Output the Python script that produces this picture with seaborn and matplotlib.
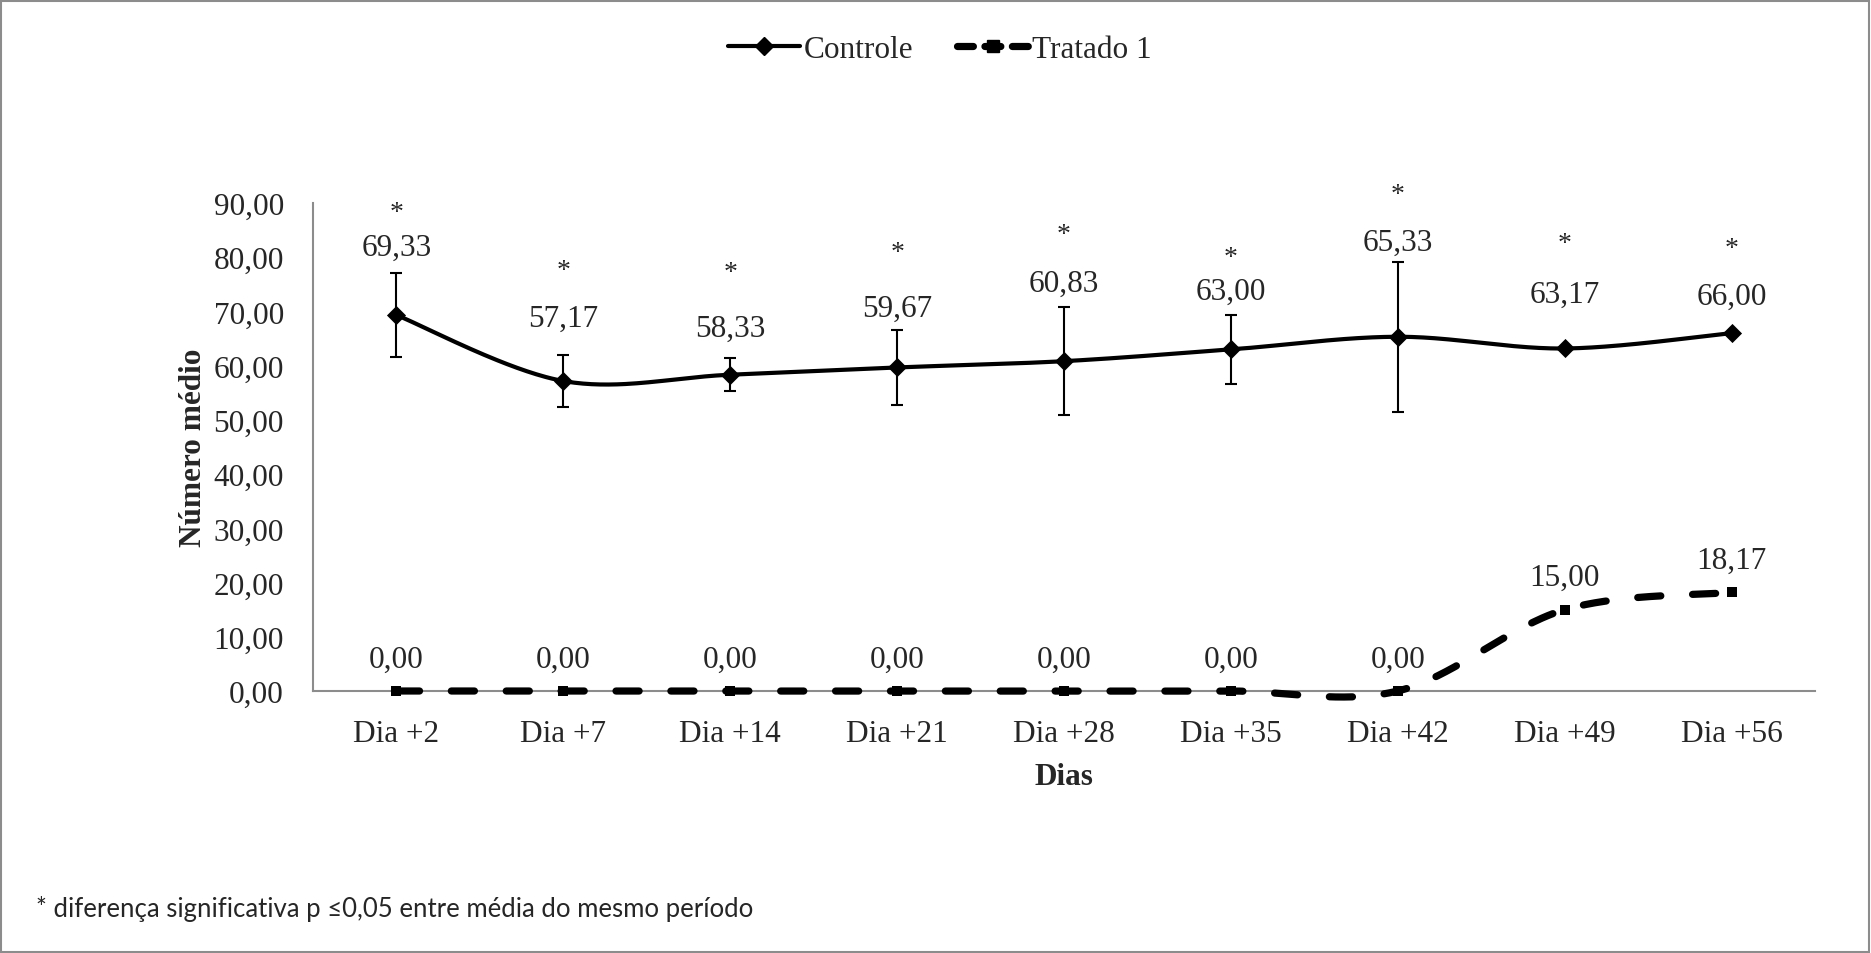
import numpy as np
import pandas as pd
import matplotlib
matplotlib.use("Agg")
import matplotlib.pyplot as plt
from matplotlib.lines import Line2D
from matplotlib.patches import Rectangle
from matplotlib.ticker import FuncFormatter, FixedLocator
import seaborn as sns

# ---- data -------------------------------------------------------------
dias = ["Dia +2", "Dia +7", "Dia +14", "Dia +21", "Dia +28",
        "Dia +35", "Dia +42", "Dia +49", "Dia +56"]
controle = [69.33, 57.17, 58.33, 59.67, 60.83, 63.00, 65.33, 63.17, 66.00]
controle_dp = [7.75, 4.85, 3.05, 6.90, 9.95, 6.30, 13.80, 0.0, 0.0]
tratado = [0.00, 0.00, 0.00, 0.00, 0.00, 0.00, 0.00, 15.00, 18.17]
significativo = [True] * 9

# placement of the value labels / asterisks of the control series (data units)
controle_label_y = [81.9, 68.8, 66.9, 70.6, 75.2, 73.7, 82.8, 73.2, 72.7]
asterisco_y = [88.2, 77.6, 77.1, 80.8, 84.1, 80.0, 91.5, 82.6, 81.7]

y_ticks = [0, 10, 20, 30, 40, 50, 60, 70, 80, 90]

SERIF = ["Liberation Serif", "DejaVu Serif"]


def fmt_br(v, _pos=None):
    return f"{v:.2f}".replace(".", ",")


def smooth_curve(x, y, n=60):
    """Piecewise cubic Bezier through the points (spreadsheet-style smoothing)."""
    pts = np.column_stack([x, y]).astype(float)
    out = []
    for i in range(len(pts) - 1):
        p0, p3 = pts[i], pts[i + 1]
        prev = pts[i - 1] if i > 0 else pts[i]
        nxt = pts[i + 2] if i + 2 < len(pts) else pts[i + 1]
        c1 = p0 + (p3 - prev) / 6.0
        c2 = p3 - (nxt - p0) / 6.0
        t = np.linspace(0, 1, n)[:, None]
        seg = ((1 - t) ** 3) * p0 + 3 * ((1 - t) ** 2) * t * c1 \
            + 3 * (1 - t) * (t ** 2) * c2 + (t ** 3) * p3
        out.append(seg if i == 0 else seg[1:])
    s = np.vstack(out)
    return pd.DataFrame({"x": s[:, 0], "y": s[:, 1]})


# ---- figure -----------------------------------------------------------
sns.set_style("white")
plt.rcParams["font.family"] = SERIF
plt.rcParams["font.size"] = 22

W, H = 1871, 954
fig = plt.figure(figsize=(W / 100, H / 100), dpi=100)
fig.patch.set_facecolor("white")
ax = fig.add_axes([313 / W, 1 - 692 / H, (1815 - 313) / W, (692 - 204) / H])

pos = np.arange(len(dias))
df_c = pd.DataFrame({"x": pos, "y": controle, "dp": controle_dp})
df_t = pd.DataFrame({"x": pos, "y": tratado})

AXIS_GRAY = "#8c8c8c"

# error bars of the control series
ax.errorbar(df_c["x"], df_c["y"], yerr=df_c["dp"], fmt="none",
            ecolor="black", elinewidth=1.5, capsize=4.3, capthick=1.5,
            zorder=3)

# smoothed control line
sns.lineplot(data=smooth_curve(df_c["x"], df_c["y"]), x="x", y="y",
             sort=False, estimator=None, color="black", linewidth=3,
             ax=ax, zorder=4, clip_on=False)
sns.scatterplot(data=df_c, x="x", y="y", marker="D", s=95, color="black",
                edgecolor="black", linewidth=0, ax=ax, zorder=5, clip_on=False)

# smoothed treatment line (dashed)
dash = (0, (3.2, 4.4))
sns.lineplot(data=smooth_curve(df_t["x"], df_t["y"]), x="x", y="y",
             sort=False, estimator=None, color="black", linewidth=5.2,
             linestyle=dash, dash_capstyle="round", ax=ax, zorder=4,
             clip_on=False)
sns.scatterplot(data=df_t, x="x", y="y", marker="s", s=60, color="black",
                edgecolor="black", linewidth=0, ax=ax, zorder=5, clip_on=False)

# value labels
for xi, v, ly in zip(pos, controle, controle_label_y):
    ax.text(xi, ly, fmt_br(v), ha="center", va="center", fontsize=22.5,
            family=SERIF, zorder=6)
for xi, ay, sig in zip(pos, asterisco_y, significativo):
    if sig:
        ax.text(xi, ay, "*", ha="center", va="center", fontsize=20,
                family=SERIF, zorder=6)
for xi, v in zip(pos, tratado):
    ax.annotate(fmt_br(v), (xi, v), xytext=(0, 23), textcoords="offset points",
                ha="center", va="center", fontsize=22.5, family=SERIF,
                zorder=6)

# axes styling
ax.set_xlim(-0.5, len(dias) - 0.5)
ax.set_ylim(0, 90)
ax.yaxis.set_major_locator(FixedLocator(y_ticks))
ax.yaxis.set_major_formatter(FuncFormatter(fmt_br))
ax.set_xticks(pos)
ax.set_xticklabels(dias)
ax.xaxis.set_minor_locator(FixedLocator(np.arange(-0.5, len(dias), 1.0)))
ax.tick_params(axis="x", which="major", length=0, pad=20, labelsize=22.5)
ax.tick_params(axis="x", which="minor", length=9, width=1.5,
               color=AXIS_GRAY, direction="out")
ax.tick_params(axis="y", which="major", length=7, width=1.5,
               color=AXIS_GRAY, direction="out", pad=14, labelsize=22.5)
for lab in ax.get_xticklabels() + ax.get_yticklabels():
    lab.set_family(SERIF)

for side in ("top", "right"):
    ax.spines[side].set_visible(False)
for side in ("left", "bottom"):
    ax.spines[side].set_color(AXIS_GRAY)
    ax.spines[side].set_linewidth(1.5)
ax.grid(False)

ax.set_xlabel("Dias", fontsize=22.5, fontweight="bold", family=SERIF)
ax.set_ylabel("Número médio", fontsize=22.5, fontweight="bold", family=SERIF)
ax.xaxis.set_label_coords(0.5, -0.145)
ax.yaxis.set_label_coords(-0.070, 0.5)

# legend
handles = [
    Line2D([], [], color="black", linewidth=3, marker="D", markersize=9),
    Line2D([], [], color="black", linewidth=5.2, linestyle=(0, (2.2, 1.6)),
           dash_capstyle="round", marker="s", markersize=8),
]
fig.legend(handles, ["Controle", "Tratado 1"], loc="center",
           bbox_to_anchor=(940 / W, 1 - 50 / H), ncol=2, frameon=False,
           handlelength=2.3, handletextpad=0.1, columnspacing=1.4,
           numpoints=1, prop={"family": SERIF, "size": 22.5})

# footnote
fig.text(36 / W, 1 - 909 / H,
         "* diferença significativa p \u22640,05 entre média do mesmo período",
         ha="left", va="center", fontsize=18.5,
         family=["Lato", "DejaVu Sans"])

# chart border
fig.patches.append(Rectangle((1 / W, 1 / H), 1 - 3 / W, 1 - 3 / H,
                             transform=fig.transFigure, fill=False,
                             edgecolor=AXIS_GRAY, linewidth=1.5))

fig.savefig("out.png", dpi=100)
